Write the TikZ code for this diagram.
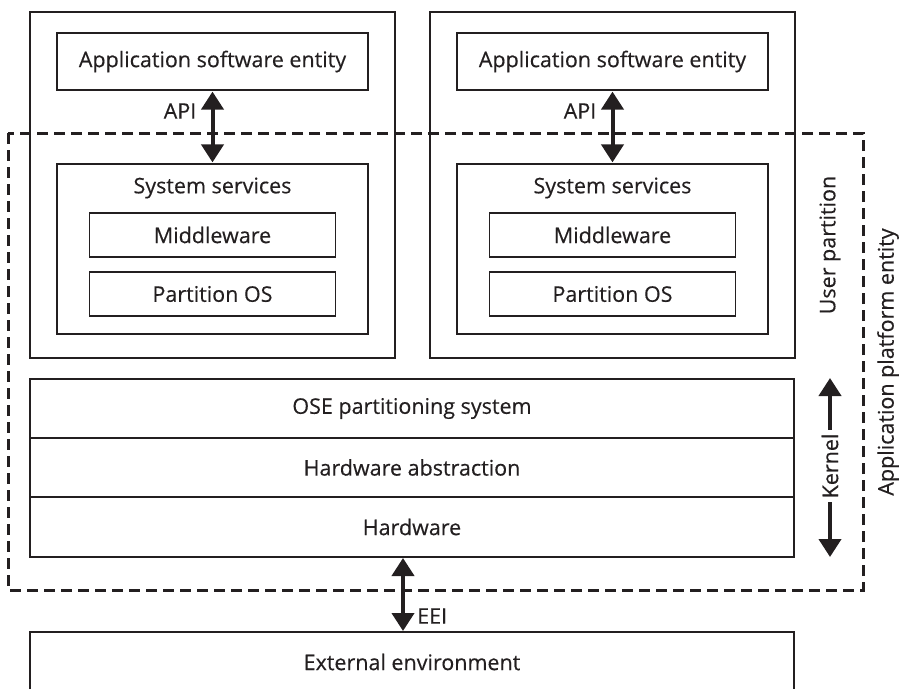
\documentclass[tikz,border=0pt]{standalone}
\usepackage{fontspec}
\setmainfont{Open Sans}[UprightFeatures={FakeBold=0.35}]
\usetikzlibrary{arrows.meta}
\definecolor{ink}{HTML}{231F20}
\tikzset{
  thinbox/.style={draw=ink, line width=1.2pt, rectangle, inner sep=0pt},
  thickbox/.style={draw=ink, line width=2.4pt, rectangle, inner sep=0pt},
  txt/.style={text=ink, font=\fontsize{21.5}{25}\selectfont, inner sep=1pt},
  dblarrow/.style={draw=ink, line width=4pt, {Triangle[width=22pt,length=18pt]}-{Triangle[width=22pt,length=18pt]}, shorten <=1pt, shorten >=1pt},
  dashbox/.style={draw=ink, line width=3pt, dash pattern=on 11pt off 6pt}
}
\begin{document}
\begin{tikzpicture}[x=1pt,y=-1pt]
\useasboundingbox (0,0) rectangle (899,689);
% dashed application platform entity
\draw[dashbox] (8,133) rectangle (863,590);
% partitions
\foreach \n/\cx in {1/212.5, 2/612.5}{
  \node[thickbox, minimum width=365pt, minimum height=346pt] (part\n) at (\cx,185) {};
  \node[thinbox, minimum width=311pt, minimum height=57pt, txt] (app\n) at (\cx,61.5) {Application software entity};
  \node[thinbox, minimum width=311pt, minimum height=170pt] (sys\n) at (\cx,249) {};
  \node[txt] (systxt\n) at (\cx,188) {System services};
  \node[thinbox, minimum width=246pt, minimum height=44pt, txt] (mid\n) at (\cx,235) {Middleware};
  \node[thinbox, minimum width=246pt, minimum height=44pt, txt] (pos\n) at (\cx,294) {Partition OS};
  \draw[dblarrow] (app\n.south) -- (sys\n.north);
  \node[txt, anchor=east] (api\n) at (\cx-15,111) {API};
}
% kernel stack
\node[thinbox, minimum width=764pt, minimum height=59pt, txt] (ose) at (412,408.5) {OSE partitioning system};
\node[thinbox, minimum width=764pt, minimum height=59pt, txt] (hal) at (412,467.5) {Hardware abstraction};
\node[thinbox, minimum width=764pt, minimum height=60pt, txt] (hw) at (412,527) {Hardware};
% external environment (open at bottom)
\draw[ink, line width=1.2pt] (30,689) -- (30,632) -- (794,632) -- (794,689);
\node[txt] (ext) at (412,662) {External environment};
\coordinate (hwb) at (403,557);
\coordinate (extt) at (403,632);
\draw[dblarrow] (hwb) -- (extt);
\node[txt, anchor=west] (eei) at (416,616) {EEI};
% kernel arrow
\coordinate (ktop) at (830,378);
\coordinate (kbot) at (830,557);
\draw[dblarrow, shorten <=0pt, shorten >=0pt] (kbot) -- (ktop);
\node[txt, rotate=90, fill=white, inner sep=4pt] (kern) at (830,466) {Kernel};
% side labels
\node[txt, rotate=90] (upart) at (830,245) {User partition};
\node[txt, rotate=90] (ape) at (888,362) {Application platform entity};
\end{tikzpicture}
\end{document}
